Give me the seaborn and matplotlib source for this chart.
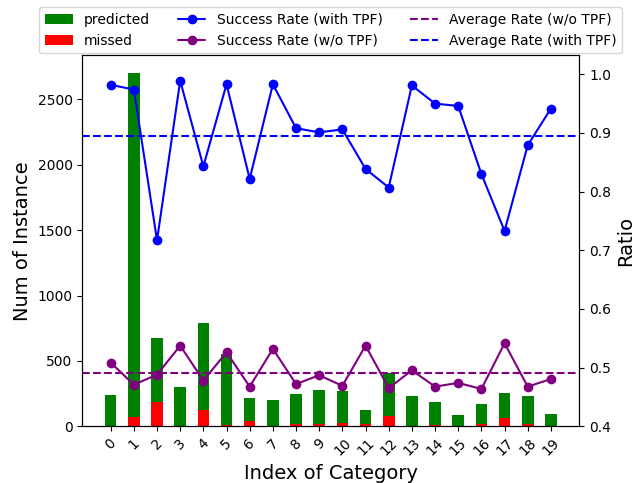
import numpy as np
import pandas as pd
import matplotlib
matplotlib.use("Agg")
import matplotlib.pyplot as plt
import seaborn as sns

# Per-category instance counts
categories = list(range(20))
total = [237, 2700, 673, 300, 787, 550, 214, 199, 245, 275,
         268, 122, 410, 229, 183, 84, 168, 252, 229, 92]
missed = [5, 69, 186, 3, 125, 8, 38, 3, 18, 20,
          23, 18, 79, 4, 8, 4, 20, 64, 20, 5]

# Success rates per category
rate_with_tpf = [0.982, 0.974, 0.717, 0.989, 0.843, 0.983, 0.8215, 0.983, 0.908, 0.901,
                 0.906, 0.8386, 0.807, 0.981, 0.950, 0.946, 0.830, 0.733, 0.879, 0.9415]
rate_without_tpf = [0.5086, 0.471, 0.488, 0.5375, 0.478, 0.526, 0.4676, 0.532, 0.472, 0.487,
                    0.469, 0.5375, 0.465, 0.4955, 0.4676, 0.474, 0.4636, 0.5415, 0.4676, 0.4806]
avg_with_tpf = 0.8955
avg_without_tpf = 0.4915

sns.set_style("ticks")
plt.rcParams["font.family"] = ["DejaVu Sans"]
plt.rcParams["xtick.direction"] = "out"
plt.rcParams["ytick.direction"] = "out"
for key in ["axes.edgecolor", "xtick.color", "ytick.color", "text.color",
            "axes.labelcolor"]:
    plt.rcParams[key] = "black"

df = pd.DataFrame({"idx": categories, "total": total, "missed": missed,
                   "with_tpf": rate_with_tpf, "without_tpf": rate_without_tpf})

fig = plt.figure(figsize=(6.42, 4.83), dpi=100)
ax = fig.add_axes([0.1282, 0.1174, 0.7741, 0.7677])

sns.barplot(data=df, x="idx", y="total", color="green", width=0.5,
            saturation=1, errorbar=None, linewidth=0, ax=ax, label="predicted")
sns.barplot(data=df, x="idx", y="missed", color="red", width=0.5,
            saturation=1, errorbar=None, linewidth=0, ax=ax, label="missed")
ax.set_xlim(-1.225, 20.225)
ax.set_ylim(0, 2835)
ax.set_yticks([0, 500, 1000, 1500, 2000, 2500])
ax.set_xticks(range(20))
ax.set_xticklabels([str(c) for c in categories], rotation=45)
ax.tick_params(labelsize=10, length=3.5, width=0.8)
ax.set_xlabel("Index of Category", fontsize=14)
ax.set_ylabel("Num of Instance", fontsize=14)

ax2 = ax.twinx()
sns.lineplot(data=df, x="idx", y="with_tpf", color="blue", marker="o",
             markersize=7, markeredgewidth=0, linewidth=1.5, ax=ax2,
             label="Success Rate (with TPF)")
sns.lineplot(data=df, x="idx", y="without_tpf", color="purple", marker="o",
             markersize=7, markeredgewidth=0, linewidth=1.5, ax=ax2,
             label="Success Rate (w/o TPF)")
ax2.axhline(avg_without_tpf, color="purple", linestyle="--", linewidth=1.5,
            label="Average Rate (w/o TPF)")
ax2.axhline(avg_with_tpf, color="blue", linestyle="--", linewidth=1.5,
            label="Average Rate (with TPF)")
ax2.set_ylim(0.4, 1.032)
ax2.set_yticks([0.4, 0.5, 0.6, 0.7, 0.8, 0.9, 1.0])
ax2.set_ylabel("Ratio", fontsize=14)
ax2.set_xlabel("")
ax2.tick_params(labelsize=10, length=3.5, width=0.8)
ax2.set_xlim(-1.225, 20.225)

h1, l1 = ax.get_legend_handles_labels()
h2, l2 = ax2.get_legend_handles_labels()
if ax2.get_legend() is not None:
    ax2.get_legend().remove()
if ax.get_legend() is not None:
    ax.get_legend().remove()
ax2.legend(h1 + h2, l1 + l2, ncol=3, loc="lower center",
           bbox_to_anchor=(0.5, 1.0), borderaxespad=0.15,
           fontsize=10, frameon=True)

fig.savefig("out.png", dpi=100)
